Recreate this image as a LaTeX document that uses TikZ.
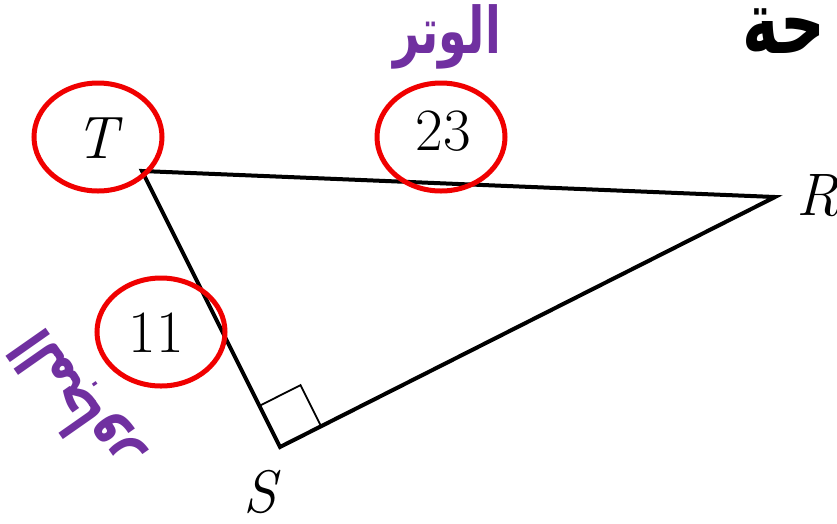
\documentclass[tikz,border=0pt]{standalone}
\usepackage{fontspec}
\usetikzlibrary{shapes.geometric,calc}
\newfontfamily\arabicfont[Script=Arabic]{DejaVu Sans}
\TeXXeTstate=1
\definecolor{arpurple}{RGB}{112,48,160}
\definecolor{ringred}{RGB}{240,0,0}
\begin{document}
\begin{tikzpicture}[x=1pt,y=-1pt,
  side/.style={line width=4pt,line join=miter,line cap=round},
  ring/.style={draw=ringred,line width=5pt,ellipse,minimum width=128pt,minimum height=108pt,inner sep=0pt},
  vlabel/.style={font=\fontsize{60}{62}\selectfont\itshape,inner sep=0pt},
  numlabel/.style={font=\fontsize{60}{62}\selectfont,inner sep=0pt},
  arlabel/.style={font=\arabicfont\bfseries\fontsize{46}{50}\selectfont,inner sep=0pt}]
\useasboundingbox[fill=white] (0,0) rectangle (837,523);
% vertices
\coordinate (T) at (142,171);
\coordinate (R) at (775,197);
\coordinate (S) at (280,447);
% triangle
\draw[side] (T) -- (R) -- (S) -- cycle;
% right angle mark
\coordinate (P1) at ($(S)!46pt!(T)$);
\coordinate (P2) at ($(S)!46pt!(R)$);
\coordinate (P3) at ($(P1)+(P2)-(S)$);
\draw[line width=1.8pt] (P1) -- (P3) -- (P2);
% labels
\node[vlabel] (lT) at (96,138) {T};
\node[vlabel] (lR) at (818,196) {R};
\node[vlabel] (lS) at (260,492) {S};
\node[numlabel] (n23) at (443,131) {23};
\node[numlabel] (n11) at (156,333) {11};
% red rings
\node[ring] (rT) at (98,137) {};
\node[ring] (r23) at (441,137) {};
\node[ring] (r11) at (161,332) {};
% arabic texts
\node[arlabel,text=arpurple] (hyp) at (447,37) {\scalebox{1}[1.4]{\beginR الوتر\endR}};
\node[arlabel,text=arpurple,rotate=125] (adj) at (76,401) {\scalebox{0.95}[1.4]{\beginR المجاور\endR}};
\node[arlabel,text=black] (frag) at (784,31) {\scalebox{1.35}[1.9]{\beginR حة\endR}};
\end{tikzpicture}
\end{document}
